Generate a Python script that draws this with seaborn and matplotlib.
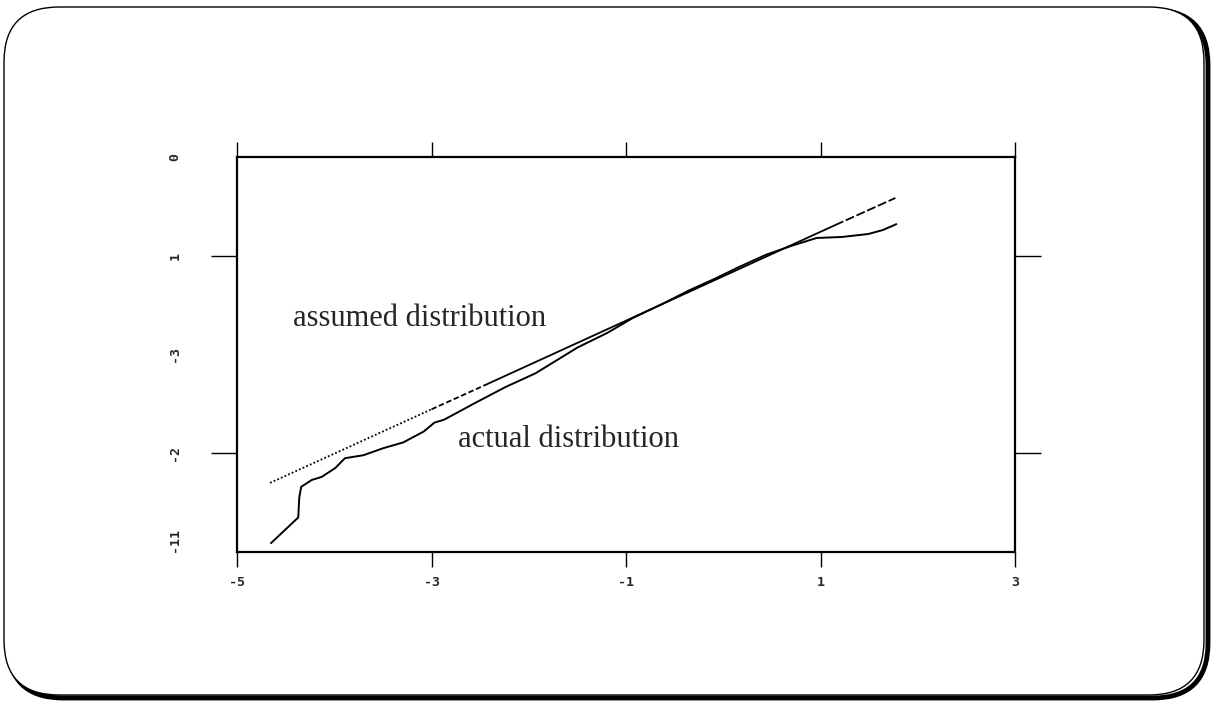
import numpy as np
import pandas as pd
import matplotlib
matplotlib.use("Agg")
import matplotlib.pyplot as plt
from matplotlib.patches import FancyBboxPatch
import seaborn as sns

# --- DATA ---
ACTUAL_X = [-4.65, -4.37, -4.36, -4.34, -4.23, -4.13, -3.99, -3.89, -3.70, -3.50,
            -3.29, -3.08, -2.97, -2.87, -2.55, -2.24, -1.93, -1.50, -1.19, -0.93,
            -0.61, -0.35, -0.08, 0.17, 0.44, 0.70, 0.96, 1.22, 1.49, 1.64, 1.78]
ACTUAL_Y = [-3.91, -3.65, -3.45, -3.34, -3.27, -3.24, -3.15, -3.05, -3.02, -2.95,
            -2.89, -2.78, -2.69, -2.66, -2.49, -2.33, -2.19, -1.93, -1.78, -1.63,
            -1.48, -1.35, -1.23, -1.11, -0.99, -0.90, -0.82, -0.81, -0.78, -0.74, -0.68]

# assumed distribution: a straight reference line drawn in pieces of differing dash
ASSUMED_X = [-4.66, -3.00, -3.00, -2.45, -2.45, 1.15, 1.15, 1.77]
ASSUMED_Y = [-3.30, -2.555, -2.555, -2.31, -2.31, -0.69, -0.69, -0.415]
ASSUMED_PART = ["dot", "dot", "dash", "dash", "solid", "solid", "dash2", "dash2"]

X_TICKS = [-5, -3, -1, 1, 3]
X_TICK_LABELS = ["-5", "-3", "-1", "1", "3"]
Y_TICK_MARKS = [-1, -3]
Y_LABEL_POS = [0, -1, -2, -3, -3.88]
Y_TICK_LABELS = ["0", "1", "-3", "-2", "-11"]

LABEL_ASSUMED = "assumed distribution"
LABEL_ACTUAL = "actual distribution"

sns.set_style("white")
plt.rcParams["font.family"] = ["DejaVu Sans Mono"]

W, H = 1212, 702
fig = plt.figure(figsize=(W / 100, H / 100), dpi=100)
ax = fig.add_axes([237 / W, 1 - 552 / H, 778 / W, 395 / H])

actual = pd.DataFrame({"x": ACTUAL_X, "y": ACTUAL_Y})
sns.lineplot(data=actual, x="x", y="y", ax=ax, color="black", lw=1.4,
             sort=False, estimator=None)

assumed = pd.DataFrame({"x": ASSUMED_X, "y": ASSUMED_Y, "part": ASSUMED_PART})
styles = {"dot": (0, (1, 1.2)), "dash": (0, (3, 1.5)), "solid": "-", "dash2": (0, (5, 1.5))}
for part, sub in assumed.groupby("part", sort=False):
    sns.lineplot(data=sub, x="x", y="y", ax=ax, color="black", lw=1.3,
                 sort=False, estimator=None, linestyle=styles[part])

ax.set_xlim(-5, 3)
ax.set_ylim(-4, 0)
ax.set_xlabel("")
ax.set_ylabel("")

# x ticks top and bottom, outward
ax.set_xticks(X_TICKS)
ax.set_xticklabels(X_TICK_LABELS, fontsize=9.5, fontweight="bold")
ax.tick_params(axis="x", which="major", direction="out", length=11, width=1.0,
               top=True, bottom=True, labeltop=False, pad=6, color="black")

# y: long tick marks on both sides at -1 and -3; labels rotated on the left
ax.yaxis.remove_overlapping_locs = False
ax.set_yticks(Y_TICK_MARKS)
ax.set_yticklabels([])
ax.tick_params(axis="y", which="major", direction="out", length=19, width=1.0,
               left=True, right=True, color="black")
ax.set_yticks(Y_LABEL_POS, minor=True)
ax.set_yticklabels(Y_TICK_LABELS, minor=True, rotation=90, fontsize=9.5,
                   fontweight="bold", va="center")
ax.tick_params(axis="y", which="minor", length=0, pad=40)

for side in ["left", "right", "top", "bottom"]:
    ax.spines[side].set_visible(True)
    ax.spines[side].set_color("black")
    ax.spines[side].set_linewidth(1.6)

ax.text(-4.42, -1.71, LABEL_ASSUMED, fontsize=22, family="Liberation Serif",
        ha="left", va="baseline")
ax.text(-2.73, -2.94, LABEL_ACTUAL, fontsize=22, family="Liberation Serif",
        ha="left", va="baseline")

# rounded frame with a shadow on the right and bottom
shadow = FancyBboxPatch((8, 4), W - 12, H - 14, boxstyle="round,pad=0,rounding_size=55",
                        transform=None, facecolor="none", edgecolor="black", lw=3.5, zorder=-2)
frame = FancyBboxPatch((4, 7), W - 12, H - 14, boxstyle="round,pad=0,rounding_size=55",
                       transform=None, facecolor="white", edgecolor="black", lw=1.0, zorder=-1)
fig.patches.extend([shadow, frame])

fig.savefig("out.png", dpi=100)
